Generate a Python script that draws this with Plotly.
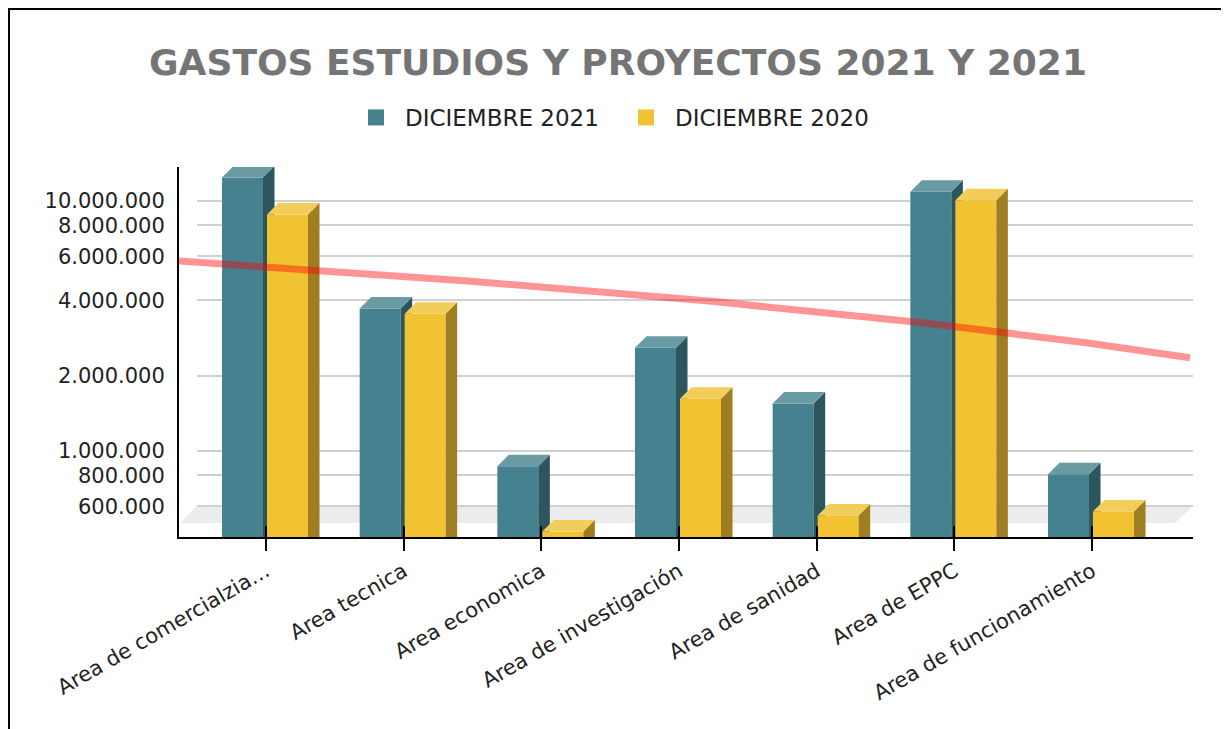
import numpy as np
import plotly.graph_objects as go

# ---------------- data ----------------
categories = [
    "Area de comercialzia…",
    "Area tecnica",
    "Area economica",
    "Area de investigación",
    "Area de sanidad",
    "Area de EPPC",
    "Area de funcionamiento",
]
dic_2021 = [13_800_000, 4_130_000, 967_000, 2_880_000, 1_720_000, 12_100_000, 898_000]
dic_2020 = [9_820_000, 3_940_000, 530_000, 1_800_000, 614_000, 11_200_000, 637_000]
series_names = ["DICIEMBRE 2021", "DICIEMBRE 2020"]
y_tick_vals = [600_000, 800_000, 1_000_000, 2_000_000, 4_000_000, 6_000_000, 8_000_000, 10_000_000]
y_tick_text = [f"{v:,}".replace(",", ".") for v in y_tick_vals]
title_text = "GASTOS ESTUDIOS Y PROYECTOS 2021 Y 2021"

# ---------------- layout geometry (page pixels) ----------------
PAGE_OFF = 8            # default body margin of the html page
W, H = 1229 - PAGE_OFF, 729 - PAGE_OFF


def px_x(p):
    return (p - PAGE_OFF) / W


def px_y(p):
    return 1 - (p - PAGE_OFF) / H


PX_PER_DECADE = 250.0
DEPTH = 11.5
CAT_PX = 137.67
FIRST_CAT_PX = 266
FRONT_LEFT, FRONT_RIGHT = 179, 1193
FRONT_TOP, FRONT_BOTTOM = 167, 537
BACK_LEFT = 197
BACK_TOP, BACK_BOTTOM = FRONT_TOP - DEPTH, FRONT_BOTTOM - DEPTH
LOG_MIN = 5.702
LOG_MAX = LOG_MIN + (FRONT_BOTTOM - FRONT_TOP) / PX_PER_DECADE
X_RANGE = [(FRONT_LEFT - FIRST_CAT_PX) / CAT_PX, (FRONT_RIGHT - FIRST_CAT_PX) / CAT_PX]
TREND_END = (1190 - FIRST_CAT_PX) / CAT_PX

BAR_W = 41 / CAT_PX
OFFSETS = [-44 / CAT_PX, 1 / CAT_PX]
dx = DEPTH / CAT_PX
fy = 10 ** (DEPTH / PX_PER_DECADE)
base = 10 ** LOG_MIN

FRONT = ["#45818e", "#f1c232"]
SIDE = ["#2d555d", "#9e7e21"]
TOP = ["#6a9ba5", "#f3cd5a"]
FONT = "DejaVu Sans"
TXT = "#222222"

xs = np.arange(len(categories))

fig = go.Figure()

# back subplot (grid + labels) placeholder trace
fig.add_trace(go.Scatter(x=[None], y=[None], xaxis="x", yaxis="y",
                         showlegend=False, hoverinfo="skip"))


def faces(values, offset):
    tx, ty, sx, sy = [], [], [], []
    for i, v in enumerate(values):
        xl = i + offset
        xr = xl + BAR_W
        tx += [xl, xr, xr + dx, xl + dx, xl, None]
        ty += [v, v, v * fy, v * fy, v, None]
        sx += [xr, xr, xr + dx, xr + dx, xr, None]
        sy += [base, v, v * fy, base, base, None]
    return tx, ty, sx, sy


for k, (vals, yax) in enumerate([(dic_2021, "y2"), (dic_2020, "y3")]):
    fig.add_trace(go.Bar(
        x=xs, y=vals, xaxis="x2", yaxis=yax, width=BAR_W, offset=OFFSETS[k],
        marker=dict(color=FRONT[k], line=dict(width=0)), name=series_names[k],
        showlegend=False,
    ))
    tx, ty, sx, sy = faces(vals, OFFSETS[k])
    fig.add_trace(go.Scatter(x=sx, y=sy, xaxis="x2", yaxis=yax, mode="lines",
                             fill="toself", fillcolor=SIDE[k], line=dict(width=0),
                             showlegend=False, hoverinfo="skip"))
    fig.add_trace(go.Scatter(x=tx, y=ty, xaxis="x2", yaxis=yax, mode="lines",
                             fill="toself", fillcolor=TOP[k], line=dict(width=0),
                             showlegend=False, hoverinfo="skip"))

# linear trendline of DICIEMBRE 2020
coef = np.polyfit(xs, np.array(dic_2020, dtype=float), 1)
x_line = np.linspace(X_RANGE[0], TREND_END, 120)
y_line = np.polyval(coef, x_line)
fig.add_trace(go.Scatter(x=x_line, y=y_line, xaxis="x2", yaxis="y4", mode="lines",
                         line=dict(color="rgba(255,0,0,0.42)", width=7),
                         showlegend=False, hoverinfo="skip"))

# inner half of category ticks
fig.add_trace(go.Scatter(x=[None], y=[None], xaxis="x3", yaxis="y2",
                         showlegend=False, hoverinfo="skip"))

# legend entries
for k in range(2):
    fig.add_trace(go.Scatter(x=[None], y=[None], xaxis="x2", yaxis="y2", mode="markers",
                             marker=dict(symbol="square", size=16, color=FRONT[k]),
                             name=series_names[k]))

shift = DEPTH / PX_PER_DECADE
fig.update_layout(
    width=W, height=H,
    margin=dict(l=0, r=0, t=0, b=0, autoexpand=False),
    paper_bgcolor="white", plot_bgcolor="rgba(0,0,0,0)",
    font=dict(family=FONT, color=TXT),
    title=dict(text=title_text, x=px_x(618), xanchor="center", y=px_y(62), yanchor="middle",
               font=dict(family=FONT, size=36, color="#757575", weight="bold")),
    showlegend=True,
    legend=dict(orientation="h", x=px_x(347), xanchor="left", y=px_y(117.5), yanchor="middle",
                font=dict(family=FONT, size=23, color=TXT), itemwidth=48,
                entrywidth=207, entrywidthmode="pixels",
                bgcolor="rgba(0,0,0,0)"),
    xaxis=dict(domain=[px_x(BACK_LEFT), px_x(FRONT_RIGHT)], anchor="y", range=[0, 1],
               visible=False, automargin=False),
    yaxis=dict(domain=[px_y(BACK_BOTTOM), px_y(BACK_TOP)], anchor="x", type="log",
               range=[LOG_MIN, LOG_MAX], showgrid=True, gridcolor="#d0d0d0", gridwidth=2,
               tickvals=y_tick_vals, ticktext=y_tick_text, ticks="outside", ticklen=27,
               tickcolor="rgba(0,0,0,0)", showline=False, zeroline=False, automargin=False,
               tickfont=dict(family=FONT, size=21, color=TXT)),
    xaxis2=dict(domain=[px_x(FRONT_LEFT), px_x(FRONT_RIGHT)], anchor="y2", range=X_RANGE,
                tickvals=list(xs), ticktext=categories, tickangle=-30, ticks="outside",
                ticklen=12, tickwidth=2, tickcolor="black", showline=True,
                linecolor="black", linewidth=2, showgrid=False, zeroline=False,
                automargin=False, tickfont=dict(family=FONT, size=21, color=TXT)),
    yaxis2=dict(domain=[px_y(FRONT_BOTTOM), px_y(FRONT_TOP)], anchor="x2", type="log",
                range=[LOG_MIN, LOG_MAX], showline=True, linecolor="black", linewidth=2,
                showgrid=False, showticklabels=False, ticks="", zeroline=False,
                automargin=False),
    yaxis3=dict(overlaying="y2", anchor="x2", type="log", range=[LOG_MIN, LOG_MAX],
                visible=False, automargin=False),
    yaxis4=dict(overlaying="y2", anchor="x2", type="log",
                range=[LOG_MIN - shift, LOG_MAX - shift], visible=False, automargin=False),
    xaxis3=dict(overlaying="x2", anchor="y2", range=X_RANGE, tickvals=list(xs),
                ticks="inside", ticklen=11, tickwidth=2, tickcolor="black",
                showticklabels=False, showline=False, showgrid=False, zeroline=False,
                automargin=False),
    shapes=[
        dict(type="path", xref="paper", yref="paper", layer="below",
             path=(f"M {px_x(180)} {px_y(523)} L {px_x(1175)} {px_y(523)} "
                   f"L {px_x(1193)} {px_y(506)} L {px_x(197)} {px_y(506)} Z"),
             fillcolor="#ececec", line=dict(width=0)),
        dict(type="rect", xref="paper", yref="paper", x0=px_x(9), x1=1.05,
             y0=-0.05, y1=px_y(9), line=dict(color="black", width=2),
             fillcolor="rgba(0,0,0,0)"),
    ],
)

fig.write_html("out.html")
